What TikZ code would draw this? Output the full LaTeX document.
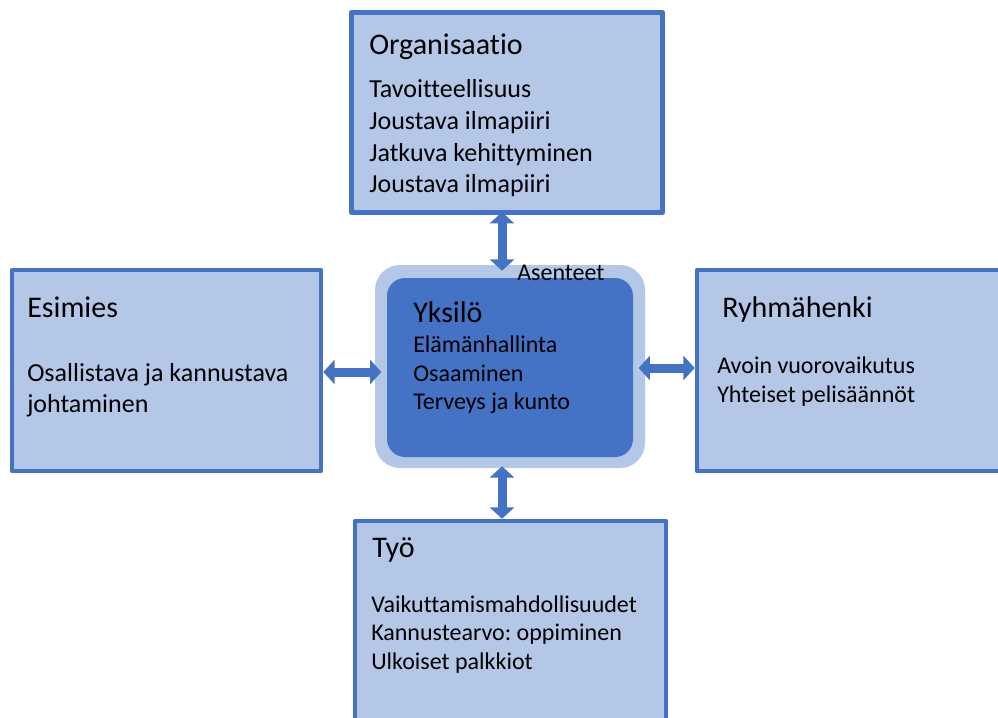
\documentclass[tikz,border=0pt]{standalone}
\usepackage{fontspec}
\setmainfont[Ligatures=NoCommon]{Carlito}
\usetikzlibrary{arrows.meta}
\definecolor{edgeblue}{RGB}{68,114,196}
\definecolor{paleblue}{RGB}{180,199,231}
\frenchspacing
\begin{document}
\begin{tikzpicture}[x=0.75pt,y=-0.75pt,line join=round,
	box/.style={draw=edgeblue,fill=paleblue,line width=3.4pt,inner sep=0pt},
	head/.style={anchor=base west,inner sep=0pt,font=\fontsize{22.5}{27}\selectfont},
	item/.style={anchor=base west,inner sep=0pt,font=\fontsize{19.5}{23}\selectfont},
	itemsmall/.style={anchor=base west,inner sep=0pt,font=\fontsize{18}{22}\selectfont},
	link/.style={draw=edgeblue,line width=6.75pt,{Triangle[width=18pt,length=8.5pt]}-{Triangle[width=18pt,length=8.5pt]}}]
	\clip (0,0) rectangle (998,717);
	\useasboundingbox (0,0) rectangle (998,717);
	% boxes
	\node[box,minimum width=311*0.75pt,minimum height=200*0.75pt] (org) at (507,112.5) {};
	\node[box,minimum width=309*0.75pt,minimum height=201*0.75pt] (esi) at (166.5,370.5) {};
	\node[box,minimum width=313*0.75pt,minimum height=201*0.75pt] (ryh) at (853.5,370.5) {};
	\node[box,minimum width=311*0.75pt,minimum height=204*0.75pt] (tyo) at (510.5,623) {};
	\node[fill=paleblue,rounded corners=18.75pt,minimum width=270*0.75pt,minimum height=203*0.75pt,inner sep=0pt] (yksout) at (510,366.5) {};
	\node[fill=edgeblue,rounded corners=13.5pt,minimum width=246*0.75pt,minimum height=179*0.75pt,inner sep=0pt] (yks) at (510,367.5) {};
	% arrows
	\coordinate (vx) at (502,0);
	\coordinate (hl) at (0,372);
	\coordinate (hr) at (0,368);
	\draw[link,shorten <=-2pt,shorten >=-4.5pt] (org.south -| vx) -- (yksout.north -| vx);
	\draw[link,shorten >=-5pt] (esi.east |- hl) -- (yksout.west |- hl);
	\draw[link,shorten <=-5pt] (yksout.east |- hr) -- (ryh.west |- hr);
	\draw[link,shorten <=-1.5pt] (yksout.south -| vx) -- (tyo.north -| vx);
	% texts
	\node[head] (orgT) at (369,55) {Organisaatio};
	\node[item] (org1) at (369,97.5) {Tavoitteellisuus};
	\node[item] (org2) at (369,129.5) {Joustava ilmapiiri};
	\node[item] (org3) at (369,161) {Jatkuva kehittyminen};
	\node[item] (org4) at (369,192.5) {Joustava ilmapiiri};
	\node[head] (esiT) at (27,317) {Esimies};
	\node[item] (esi1) at (27,381) {Osallistava ja kannustava};
	\node[item] (esi2) at (27,412) {johtaminen};
	\node[head] (ryhT) at (722,317) {Ryhmähenki};
	\node[itemsmall] (ryh1) at (717,373) {Avoin vuorovaikutus};
	\node[itemsmall] (ryh2) at (717,402) {Yhteiset pelisäännöt};
	\node[itemsmall] (ase) at (517,280) {Asenteet};
	\node[head] (yksT) at (413,322) {Yksilö};
	\node[itemsmall] (yks1) at (413,352) {Elämänhallinta};
	\node[itemsmall] (yks2) at (413,381) {Osaaminen};
	\node[itemsmall] (yks3) at (413,409) {Terveys ja kunto};
	\node[head] (tyoT) at (372,557) {Työ};
	\node[itemsmall] (tyo1) at (371,612) {Vaikuttamismahdollisuudet};
	\node[itemsmall] (tyo2) at (371,640) {Kannustearvo: oppiminen};
	\node[itemsmall] (tyo3) at (371,669) {Ulkoiset palkkiot};
\end{tikzpicture}
\end{document}
